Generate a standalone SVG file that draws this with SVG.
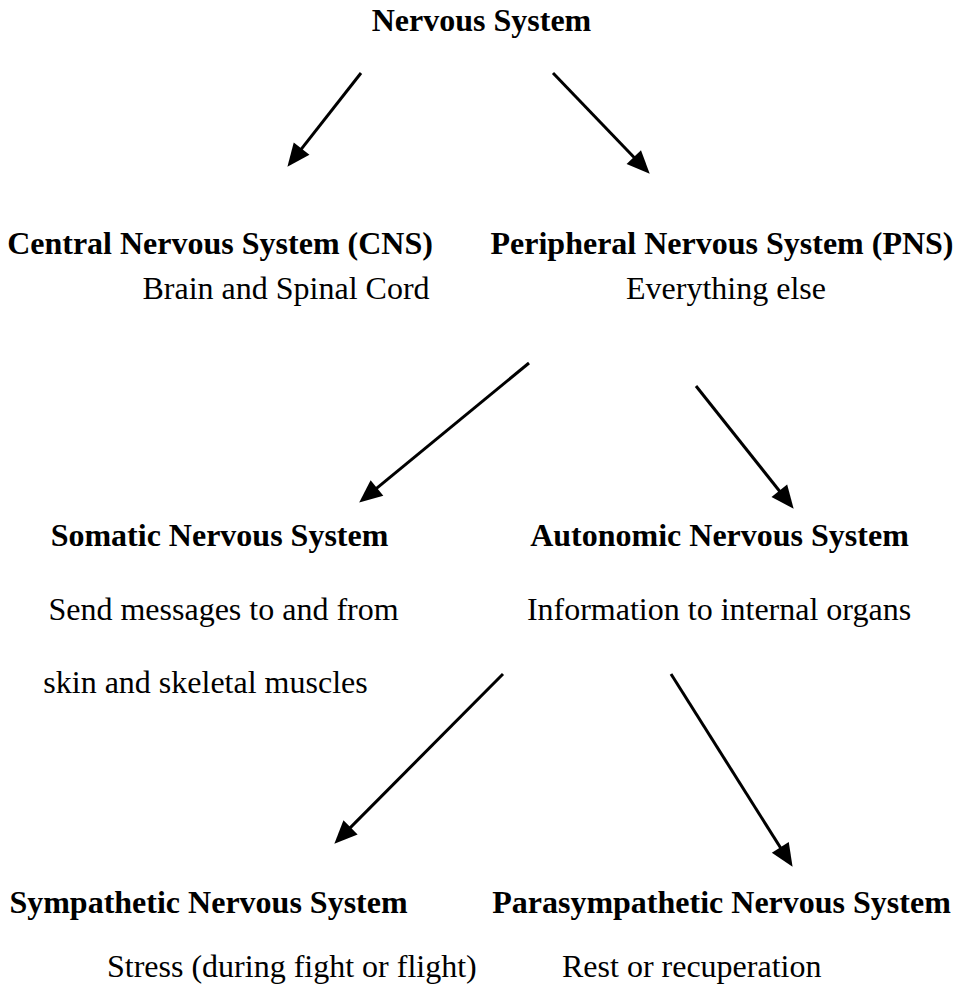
<svg xmlns="http://www.w3.org/2000/svg" width="956" height="994" viewBox="0 0 956 994">
<style>
text{font-family:"Liberation Serif","Times New Roman",serif;font-size:32px;fill:#000;text-anchor:middle}
.b{font-weight:bold}
.s{text-anchor:start}
.c{stroke:#000;stroke-width:3;fill:none}
</style>
<defs>
<marker id="ah" markerUnits="userSpaceOnUse" markerWidth="24" markerHeight="22" refX="12" refY="10" orient="auto" overflow="visible">
<path d="M0,0 L23,10 L0,20 z" fill="#000"/>
</marker>
</defs>
<rect width="956" height="994" fill="#fff"/>
<g id="connectors">
<line class="c" x1="361" y1="73" x2="294.2" y2="158.1" marker-end="url(#ah)"/>
<line class="c" x1="553" y1="73" x2="642.1" y2="165.8" marker-end="url(#ah)"/>
<line class="c" x1="529" y1="363" x2="367.7" y2="495.6" marker-end="url(#ah)"/>
<line class="c" x1="696" y1="386" x2="786.8" y2="500.2" marker-end="url(#ah)"/>
<line class="c" x1="503" y1="674" x2="342.1" y2="835.9" marker-end="url(#ah)"/>
<line class="c" x1="671" y1="674" x2="786.7" y2="857.5" marker-end="url(#ah)"/>
</g>
<g id="nervous"><text class="b" x="481.5" y="31">Nervous System</text></g>
<g id="cns">
<text class="b" x="220" y="254">Central Nervous System (CNS)</text>
<text x="286" y="299">Brain and Spinal Cord</text>
</g>
<g id="pns">
<text class="b" x="722" y="254">Peripheral Nervous System (PNS)</text>
<text x="726" y="299">Everything else</text>
</g>
<g id="somatic">
<text class="b" x="219.5" y="546">Somatic Nervous System</text>
<text x="223.5" y="620">Send messages to and from</text>
<text x="205.5" y="693">skin and skeletal muscles</text>
</g>
<g id="autonomic">
<text class="b" x="719.5" y="546">Autonomic Nervous System</text>
<text x="719" y="620">Information to internal organs</text>
</g>
<g id="sympathetic">
<text class="b" x="208.5" y="913">Sympathetic Nervous System</text>
<text class="s" x="107" y="977">Stress (during fight or flight)</text>
</g>
<g id="parasympathetic">
<text class="b" x="721.5" y="913">Parasympathetic Nervous System</text>
<text class="s" x="562" y="977">Rest or recuperation</text>
</g>
</svg>
